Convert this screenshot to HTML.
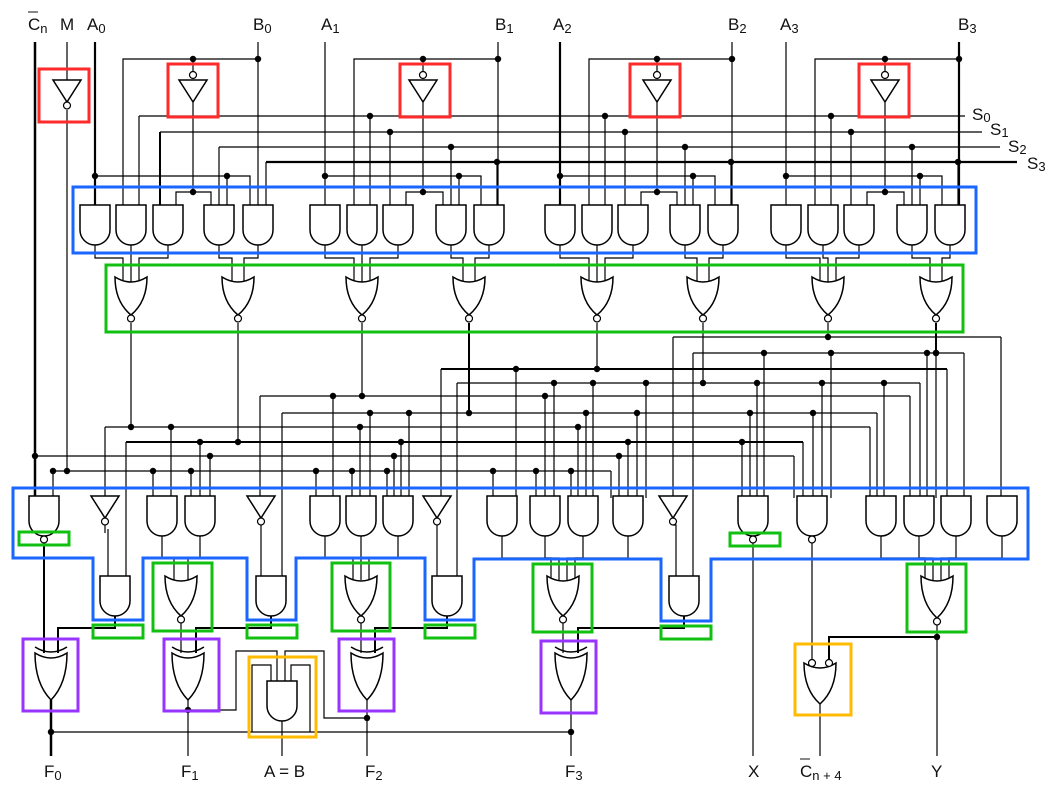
<!DOCTYPE html>
<html><head><meta charset="utf-8"><style>
html,body{margin:0;padding:0;background:#fff;}
svg{display:block;font-family:"Liberation Sans",sans-serif;}
text{font-size:17px;fill:#111;}
</style></head><body>
<svg id="s" width="1061" height="789" viewBox="0 0 1061 789" xmlns="http://www.w3.org/2000/svg">
<rect width="1061" height="789" fill="#fff"/>
<g id="w" stroke="#000" stroke-width="1.2" fill="none"></g>
<g id="b" fill="none" stroke-width="3"></g>
<g>
<text x="28" y="30">C<tspan font-size="13" dy="3">n</tspan></text>
<line x1="28" y1="12" x2="38" y2="12" stroke="#111" stroke-width="1"/>
<text x="60" y="30">M</text>
<text x="87" y="30">A<tspan font-size="13" dy="3">0</tspan></text>
<text x="253" y="30">B<tspan font-size="13" dy="3">0</tspan></text>
<text x="321" y="30">A<tspan font-size="13" dy="3">1</tspan></text>
<text x="495" y="30">B<tspan font-size="13" dy="3">1</tspan></text>
<text x="553" y="30">A<tspan font-size="13" dy="3">2</tspan></text>
<text x="728" y="30">B<tspan font-size="13" dy="3">2</tspan></text>
<text x="780" y="30">A<tspan font-size="13" dy="3">3</tspan></text>
<text x="958" y="30">B<tspan font-size="13" dy="3">3</tspan></text>
<text x="972" y="120">S<tspan font-size="13" dy="2">0</tspan></text>
<text x="990" y="135">S<tspan font-size="13" dy="2">1</tspan></text>
<text x="1008" y="152">S<tspan font-size="13" dy="2">2</tspan></text>
<text x="1027" y="169">S<tspan font-size="13" dy="2">3</tspan></text>
<text x="44" y="777">F<tspan font-size="13" dy="3">0</tspan></text>
<text x="181" y="777">F<tspan font-size="13" dy="3">1</tspan></text>
<text x="264" y="777">A = B</text>
<text x="365" y="777">F<tspan font-size="13" dy="3">2</tspan></text>
<text x="565" y="777">F<tspan font-size="13" dy="3">3</tspan></text>
<text x="748" y="777">X</text>
<text x="800" y="777">C<tspan font-size="13" dy="3">n + 4</tspan></text>
<line x1="800" y1="759" x2="810" y2="759" stroke="#111" stroke-width="1"/>
<text x="931" y="777">Y</text>
</g>
</svg>
<script>
var W=[],D=[];
function L(pts,th){var d='M'+pts.map(function(p){return p[0]+','+p[1]}).join(' L');W.push('<path d="'+d+'"'+(th?' stroke-width="'+th+'"':'')+'/>');}
function dot(x,y){D.push('<circle cx="'+x+'" cy="'+y+'" r="3.2" fill="#000" stroke="none"/>');}
function bub(x,y){W.push('<circle cx="'+x+'" cy="'+y+'" r="3.5" fill="#fff"/>');}
function AND(cx,t,h,nand){h=h||40;W.push('<path d="M'+(cx-15)+','+t+' H'+(cx+15)+' V'+(t+h-15)+' A15,15 0 0 1 '+(cx-15)+','+(t+h-15)+' Z" fill="#fff" stroke-width="1.5"/>');if(nand)bub(cx,t+h+3.5);}
function OR(cx,t,h,nor,xor){h=h||40;W.push('<path d="M'+(cx-16)+','+t+' Q'+cx+','+(t+10)+' '+(cx+16)+','+t+' Q'+(cx+16)+','+(t+h*0.65)+' '+cx+','+(t+h)+' Q'+(cx-16)+','+(t+h*0.65)+' '+(cx-16)+','+t+' Z" fill="#fff" stroke-width="1.5"/>');if(nor)bub(cx,t+h+3.5);if(xor)W.push('<path d="M'+(cx-16)+','+(t-6)+' Q'+cx+','+(t+4)+' '+(cx+16)+','+(t-6)+'" stroke-width="1.5"/>');}
function INV(cx,t,bot){W.push('<path d="M'+(cx-14)+','+t+' H'+(cx+14)+' L'+cx+','+(t+22)+' Z" fill="#fff" stroke-width="1.5"/>');if(bot)bub(cx,t+25.5);}
// ---- top inputs
L([[35,42],[35,496]],2.5);
L([[67,42],[67,80]]);L([[67,110],[67,471]]);INV(67,80,true);dot(67,471);
var A=[95,325,560,786],B=[258,498,732,959],IV=[193,423,657,885];
var G=[[95,131,168,219,258],[325,362,398,451,489],[560,597,633,685,723],[786,823,859,912,950]];
L([[139,116],[965,116]]);L([[160,132],[982,132]]);L([[219,147],[1000,147]]);L([[266,162],[1017,162]],2.2);
for(var i=0;i<4;i++){var g=G[i],a=A[i],b=B[i],v=IV[i];
 L([[a,42],[a,205]],(i%2==0)?2.2:1.2);
 L([[a,176],[g[4]-8,176],[g[4]-8,205]]);dot(a,176);L([[g[3]+8,176],[g[3]+8,205]]);dot(g[3]+8,176);
 L([[b,42],[b,205]],i==3?2.2:1.2);
 L([[g[1]-8,205],[g[1]-8,59],[b,59]]);dot(b,59);dot(v,59);L([[v,59],[v,72]]);bub(v,75);INV(v,80,false);
 L([[v,102],[v,192]]);dot(v,192);L([[g[2]+8,205],[g[2]+8,192],[g[3]-8,192],[g[3]-8,205]]);
 L([[g[1]+8,116],[g[1]+8,205]]);L([[g[2]-8,132],[g[2]-8,205]],i==0?2:1.2);L([[g[3],147],[g[3],205]]);L([[g[4]+8,162],[g[4]+8,205]]);
 if(i>0){dot(g[1]+8,116);dot(g[2]-8,132);dot(g[3],147);dot(g[4]+8,162);}
 for(var k=0;k<5;k++)AND(g[k],205,40);
}
var N=[131,238,362,469,597,703,828,936];
for(var i=0;i<4;i++){var g=G[i],n1=N[2*i],n2=N[2*i+1];
 var ins=[n1-8,n1,n1+8];for(var k=0;k<3;k++)L([[g[k],245],[g[k],258],[ins[k],258],[ins[k],282]]);
 var ins2=[n2-6,n2+6];for(var k=0;k<2;k++)L([[g[3+k],245],[g[3+k],258],[ins2[k],258],[ins2[k],282]]);
}
for(var j=0;j<8;j++)OR(N[j],277,38,true);
// ---- middle buses [y, x0, x1]
var bus=[[337,673,1001],[353,693,964],[369,441,947],[383,457,920],[396,260,910],[413,282,877],[427,105,870],[442,126,803],[456,35,794],[471,54,611]];
bus.forEach(function(q){L([[q[1],q[0]],[q[2],q[0]]],(q[0]==442||q[0]==369)?2:1.2);});
dot(35,456);
var NB=[427,442,396,413,369,383,337,353];
for(var j=0;j<8;j++){L([[N[j],323],[N[j],NB[j]]],(j==3||j==7)?2:1.2);dot(N[j],NB[j]);}
// bottom row gates & input taps [x, busY]
var taps=[[53,471],[105,427],[153,471],[171,427],[191,471],[200,442],[210,456],[260,396],[282,413],[316,471],[333,396],[352,471],[360,427],[370,413],[387,471],[394,456],[401,442],[409,413],[441,369],[457,383],[493,471],[516,369],[536,471],[545,396],[554,383],[571,471],[578,427],[586,413],[593,383],[611,471],[619,456],[628,442],[637,413],[646,383],[673,337],[693,353],[742,442],[750,413],[757,383],[764,353],[794,456],[803,442],[813,413],[822,383],[831,353],[870,427],[877,413],[884,383],[910,396],[920,383],[927,353],[936,353],[947,369],[964,353],[1001,337]];
var ends={};bus.forEach(function(q){ends[q[0]+'_'+q[2]]=1;ends[q[0]+'_'+q[1]]=1;});
taps.forEach(function(t){var y2=(t[0]==105||t[0]==260||t[0]==441||t[0]==673)?496:((t[0]==282||t[0]==457||t[0]==693||t[0]==126)?576:498);L([[t[0],t[1]],[t[0],y2]]);if(!ends[t[1]+'_'+t[0]])dot(t[0],t[1]);});
L([[126,442],[126,576]]);
// blue outlines
var Bb=[];
Bb.push('<rect x="73" y="187" width="903" height="66" stroke="#1a66ff"/>');
Bb.push('<rect x="106" y="265" width="857" height="67" stroke="#11c011"/>');
[[39,69],[168,64],[400,64],[630,64],[859,64]].forEach(function(r){Bb.push('<rect x="'+r[0]+'" y="'+r[1]+'" width="50" height="53" stroke="#ff2a2a"/>');});
Bb.push('<path d="M13,488 H1028 V559 H711 V621 H661 V559 H474 V620 H425 V558 H296 V620 H247 V558 H143 V620 H93 V558 H13 Z" stroke="#1a66ff"/>');
[[19,532],[93,625],[247,625],[425,625],[661,626],[730,533]].forEach(function(r){Bb.push('<rect x="'+r[0]+'" y="'+r[1]+'" width="50" height="13" stroke="#11c011"/>');});
[[153,563,59],[332,563,58],[533,564,59],[907,564,59]].forEach(function(r){Bb.push('<rect x="'+r[0]+'" y="'+r[1]+'" width="'+r[2]+'" height="68" stroke="#11c011"/>');});
[[23,639],[164,639],[339,639],[541,641]].forEach(function(r){Bb.push('<rect x="'+r[0]+'" y="'+r[1]+'" width="55" height="72" stroke="#9933ff"/>');});
Bb.push('<rect x="249" y="657" width="67" height="80" stroke="#ffbb00"/>');
Bb.push('<rect x="795" y="644" width="56" height="71" stroke="#ffbb00"/>');
// bottom row gates
AND(44,496,40,true);INV(105,496,true);AND(162,496);AND(200,496);INV(261,496,true);AND(325,496);AND(361,496);AND(398,496);INV(437,496,true);
AND(502,496);AND(545,496);AND(583,496);AND(628,496);INV(673,496,true);AND(753,496,40,true);AND(812,496,40,true);AND(881,496);AND(919,496);AND(956,496);AND(1002,496);
// level 2
function grp(src,ins,ny){for(var k=0;k<src.length;k++)L([[src[k],536],[src[k],558],[ins[k],558],[ins[k],ny]]);}
L([[105,525],[105,533]]);L([[108,529],[108,576]]);AND(115,576);
grp([162,200],[174,188],580);OR(181,576,40,true);
L([[261,525],[261,576]]);AND(271,576);
grp([325,361,398],[353,361,369],580);OR(361,576,40,true);
L([[437,525],[437,576]]);AND(447,576);
grp([502,545,583,628],[551,559,567,575],580);OR(563,576,40,true);
L([[673,525],[676,525],[676,576]]);AND(684,576);
grp([881,919,956,1002],[925,933,941,949],580);OR(937,576,42,true);
// level 3
L([[44,543],[44,653]],2);L([[115,616],[115,628],[58,628],[58,653]],2);OR(51,653,47,false,true);
L([[181,623],[181,653]]);L([[271,616],[271,628],[196,628],[196,653]],2);OR(188,653,47,false,true);
L([[361,623],[361,653]]);L([[447,616],[447,628],[375,628],[375,653]],2);OR(367,653,47,false,true);
L([[563,623],[563,653]]);L([[684,616],[684,628],[578,628],[578,653]],2);OR(571,653,47,false,true);
// outputs
L([[51,700],[51,756]],2.5);dot(51,732);L([[51,732],[571,732]]);
L([[188,700],[188,756]]);dot(188,710);L([[188,710],[236,710],[236,651],[277,651],[277,681]]);
L([[367,700],[367,756]]);dot(367,718);L([[367,718],[324,718],[324,651],[285,651],[285,681]]);
L([[252,732],[252,665],[271,665],[271,681]]);L([[310,732],[310,665],[291,665],[291,681]]);
AND(282,681,40);L([[282,721],[282,756]]);
L([[571,700],[571,756]]);dot(571,732);
L([[753,543],[753,756]]);
L([[812,543],[812,660]]);L([[937,625],[937,756]]);dot(937,637);L([[937,637],[829,637],[829,660]],2);
OR(820,663,41,false);bub(812,663);bub(829,663);L([[820,704],[820,756]]);
document.getElementById('w').innerHTML=W.join('')+D.join('');
document.getElementById('b').innerHTML=Bb.join('');
</script>
</body></html>
